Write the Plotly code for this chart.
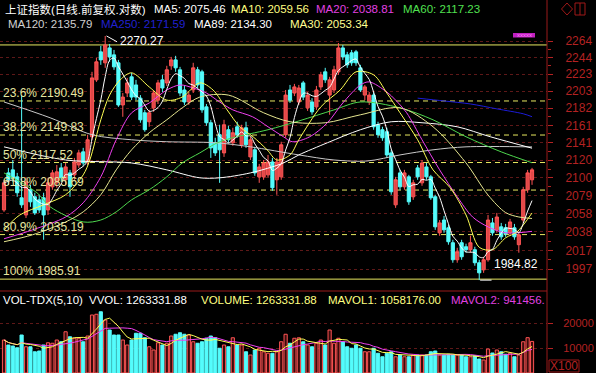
import math
import pandas as pd
import plotly.graph_objects as go

# ---------------- data ----------------
opens = [2063.0, 2105.5, 2109.0, 2100.9, 2076.8, 2057.3, 2086.0, 2078.0, 2074.5, 2076.8,
         2063.0, 2089.4, 2094.0, 2111.3, 2097.5, 2105.5, 2103.2, 2114.7, 2130.0, 2118.2,
         2147.8, 2216.1, 2250.5, 2237.0, 2255.4, 2246.8, 2237.0, 2185.7, 2200.1, 2219.8,
         2209.9, 2193.9, 2176.3, 2165.6, 2182.2, 2191.5, 2216.1, 2212.4, 2233.3, 2240.6,
         2228.4, 2203.8, 2189.3, 2203.8, 2228.4, 2225.9, 2183.4, 2164.4, 2140.7, 2150.2,
         2128.8, 2156.1, 2140.7, 2159.6, 2138.3, 2158.4, 2124.1, 2132.4, 2100.9, 2100.9,
         2103.2, 2118.2, 2097.5, 2100.9, 2150.2, 2203.8, 2200.1, 2189.3, 2212.4, 2182.2,
         2189.3, 2183.4, 2207.5, 2225.9, 2197.6, 2203.8, 2225.9, 2255.4, 2246.8, 2249.3,
         2250.5, 2230.8, 2197.6, 2189.3, 2197.6, 2162.0, 2156.1, 2153.7, 2128.8, 2068.8,
         2105.5, 2089.4, 2100.9, 2078.0, 2111.3, 2094.0, 2112.4, 2100.9, 2078.0, 2037.2,
         2051.6, 2042.8, 2026.1, 2007.2, 2026.1, 2021.6, 2018.3, 2018.3, 2003.9, 1996.1,
         2007.2, 2048.3, 2040.5, 2043.9, 2042.8, 2037.2, 2042.8, 2023.9, 2051.6, 2086.0,
         2097.5]
closes = [2094.0, 2097.5, 2099.8, 2082.6, 2068.8, 2095.2, 2072.2, 2059.6, 2063.0, 2057.3,
          2094.0, 2105.5, 2106.7, 2099.8, 2112.4, 2089.4, 2118.2, 2128.8, 2117.0, 2144.2,
          2218.5, 2238.2, 2240.6, 2259.1, 2244.3, 2232.0, 2185.7, 2195.2, 2212.4, 2195.2,
          2195.2, 2167.9, 2156.1, 2176.3, 2200.1, 2212.4, 2206.2, 2228.4, 2240.6, 2230.8,
          2200.1, 2189.3, 2197.6, 2230.8, 2209.9, 2179.8, 2164.4, 2134.7, 2128.8, 2132.4,
          2162.0, 2144.2, 2152.5, 2150.2, 2158.4, 2138.3, 2144.2, 2105.5, 2112.4, 2117.0,
          2118.2, 2088.3, 2118.2, 2138.3, 2197.6, 2191.5, 2207.5, 2206.2, 2195.2, 2197.6,
          2177.4, 2203.8, 2222.2, 2216.1, 2216.1, 2228.4, 2255.4, 2244.3, 2234.5, 2237.0,
          2237.0, 2203.8, 2207.5, 2197.6, 2159.6, 2150.2, 2146.6, 2126.4, 2083.7, 2097.5,
          2089.4, 2105.5, 2072.2, 2094.0, 2100.9, 2117.0, 2100.9, 2076.8, 2043.9, 2048.3,
          2040.5, 2027.2, 2007.2, 2016.1, 2010.5, 2018.3, 2026.1, 2003.9, 1992.8, 2007.2,
          2051.6, 2037.2, 2055.0, 2032.7, 2036.1, 2049.4, 2032.7, 2035.0, 2086.0, 2105.5,
          2109.0]
highs = [2097.5, 2111.3, 2120.5, 2105.5, 2197.6, 2099.8, 2091.7, 2082.6, 2080.3, 2082.6,
         2099.8, 2109.0, 2114.7, 2117.0, 2117.0, 2109.0, 2122.9, 2132.4, 2134.7, 2150.2,
         2225.9, 2243.1, 2257.9, 2270.27, 2260.3, 2252.9, 2240.6, 2200.1, 2218.5, 2224.7,
         2216.1, 2197.6, 2179.8, 2179.8, 2203.8, 2216.1, 2222.2, 2233.3, 2244.3, 2245.6,
         2232.0, 2208.7, 2201.3, 2237.0, 2232.0, 2228.4, 2186.9, 2167.9, 2146.6, 2162.0,
         2167.9, 2160.8, 2158.4, 2165.6, 2162.0, 2165.6, 2147.8, 2135.9, 2115.9, 2120.5,
         2126.4, 2122.9, 2122.9, 2141.9, 2203.8, 2209.9, 2211.2, 2209.9, 2214.8, 2201.3,
         2193.9, 2208.7, 2225.9, 2230.8, 2219.8, 2233.3, 2261.5, 2259.1, 2250.5, 2252.9,
         2252.9, 2234.5, 2209.9, 2201.3, 2201.3, 2165.6, 2159.6, 2158.4, 2132.4, 2100.9,
         2109.0, 2109.0, 2103.2, 2097.5, 2114.7, 2120.5, 2117.0, 2103.2, 2080.3, 2051.6,
         2056.2, 2046.1, 2029.4, 2020.5, 2029.4, 2025.0, 2033.9, 2021.6, 2007.2, 2010.5,
         2057.3, 2053.9, 2059.6, 2048.3, 2047.2, 2052.8, 2047.2, 2038.3, 2089.4, 2109.0,
         2111.3]
lows = [2060.8, 2091.7, 2095.2, 2078.0, 2065.3, 2053.9, 2066.5, 2057.3, 2059.6, 2029.4,
        2057.3, 2086.0, 2088.3, 2095.2, 2091.7, 2078.0, 2097.5, 2111.3, 2113.6, 2114.7,
        2144.2, 2213.6, 2234.5, 2230.8, 2238.2, 2228.4, 2183.4, 2171.5, 2195.2, 2191.5,
        2191.5, 2164.4, 2153.7, 2159.6, 2177.4, 2186.9, 2201.3, 2208.7, 2228.4, 2225.9,
        2196.4, 2185.7, 2185.7, 2200.1, 2206.2, 2176.3, 2160.8, 2122.9, 2125.2, 2094.0,
        2124.1, 2140.7, 2137.1, 2146.6, 2134.7, 2134.7, 2120.5, 2102.1, 2094.0, 2097.5,
        2099.8, 2084.9, 2080.3, 2097.5, 2146.6, 2188.1, 2196.4, 2185.7, 2191.5, 2178.6,
        2173.9, 2179.8, 2203.8, 2212.4, 2173.9, 2200.1, 2222.2, 2240.6, 2230.8, 2233.3,
        2233.3, 2201.3, 2191.5, 2185.7, 2156.1, 2146.6, 2143.0, 2122.9, 2080.3, 2065.3,
        2086.0, 2086.0, 2068.8, 2074.5, 2097.5, 2090.6, 2097.5, 2074.5, 2040.5, 2033.9,
        2037.2, 2023.9, 2003.9, 2003.9, 2007.2, 2015.0, 2015.0, 2000.6, 1984.82, 1992.8,
        2005.0, 2033.9, 2037.2, 2029.4, 2032.7, 2033.9, 2029.4, 2015.0, 2048.3, 2082.6,
        2091.7]
# volume in units of 100 (axis "X100")
vols = [13200, 11200, 10800, 10100, 15200, 10500, 10500, 8500, 8800, 11200,
        12100, 11900, 13200, 12500, 16500, 14500, 13900, 13900, 12500, 14800,
        23200, 23500, 24500, 21200, 17200, 15200, 15200, 13200, 11200, 13200,
        15900, 15900, 14100, 10500, 9200, 12100, 11200, 11900, 14800, 15500,
        16100, 15500, 15200, 12500, 11900, 12500, 13900, 14800, 14100, 9900,
        11200, 10500, 14100, 11200, 11200, 8500, 7200, 9200, 9900, 8500,
        7900, 7900, 8500, 12500, 15500, 11900, 13900, 14100, 12500, 11200,
        10500, 11900, 13200, 11200, 17200, 11900, 13900, 12500, 10500, 9900,
        11200, 9900, 8500, 8500, 9900, 7900, 6500, 7900, 8500, 6500,
        7200, 6500, 6500, 7200, 7200, 7200, 7200, 8500, 8800, 7200,
        7200, 7500, 7200, 7200, 7200, 6500, 6500, 6900, 5600, 5200,
        9600, 8000, 9200, 8500, 7500, 7900, 6500, 7200, 12500, 14130,
        12633]

# moving-average lines (candle index, value)
ma10_x = [0, 3.6, 9, 14, 18, 19.5, 22, 24, 26.4, 29, 33, 37, 40.5, 44.5, 47.5, 50.7, 53.6, 56.6, 59.8,
          62, 65, 67, 72, 76.4, 80, 84, 87, 90, 94, 97.5, 101.4, 105, 108, 111, 114, 116.6, 120]
ma10_v = [2040.5, 2057.3, 2068.8, 2080.3, 2103.2, 2120.5, 2167.9, 2197.6, 2216.1, 2224.7, 2207.5,
          2191.5, 2195.2, 2212.4, 2203.8, 2179.8, 2159.6, 2147.8, 2132.4, 2120.5, 2126.4, 2144.2,
          2183.4, 2203.8, 2225.9, 2222.2, 2200.1, 2176.3, 2144.2, 2109.0, 2088.3, 2057.3, 2021.0,
          2018.3, 2031.6, 2038.3, 2059.56]
ma20_x = [0, 6.5, 14, 18, 22, 25.5, 29, 33, 37, 40, 43, 46, 49, 52, 56.5, 60, 63.5, 65.5, 69.5,
          73.5, 77, 81, 83, 87, 89, 91.5, 95, 99, 103, 106.5, 110, 114, 120]
ma20_v = [2030.5, 2040.5, 2055.0, 2071.1, 2100.9, 2144.2, 2176.3, 2188.0, 2203.8, 2209.9, 2206.2,
          2200.1, 2189.3, 2179.8, 2171.5, 2159.6, 2147.8, 2141.9, 2147.8, 2164.4, 2188.1, 2209.9,
          2213.6, 2201.3, 2191.5, 2176.3, 2144.2, 2109.0, 2078.0, 2055.0, 2043.9, 2037.2, 2038.81]
ma30_x = [0, 6.5, 14, 18, 22, 25.5, 29, 33, 37, 40.5, 44.5, 51, 59, 65, 73, 81, 90, 97.5, 105,
          110, 114, 117, 120]
ma30_v = [2027.2, 2035.0, 2049.4, 2060.8, 2080.3, 2109.0, 2132.4, 2152.5, 2167.9, 2182.2, 2195.2,
          2197.6, 2176.3, 2165.6, 2164.4, 2173.9, 2182.2, 2159.6, 2117.0, 2080.0, 2060.0, 2055.0,
          2053.34]
ma60_x = [0, 7.5, 10.5, 18, 22, 25.5, 29, 33, 37, 40.5, 44.5, 48.5, 52, 60, 67, 75, 81, 90, 97.5,
          105, 113, 120]
ma60_v = [2105.5, 2082.6, 2066.5, 2049.4, 2051.6, 2060.8, 2074.5, 2086.0, 2100.9, 2117.0, 2128.8,
          2140.7, 2146.6, 2156.1, 2166.5, 2179.8, 2189.3, 2182.2, 2167.9, 2147.8, 2130.0, 2117.23]
ma89_x = [0, 14, 29, 37, 44.5, 49, 56, 63.5, 67, 73.5, 81, 88, 95, 103, 110.5, 120]
ma89_v = [2135.9, 2120.5, 2117.0, 2109.0, 2099.8, 2099.8, 2105.5, 2117.0, 2126.4, 2140.7, 2156.1,
          2165.6, 2164.4, 2159.6, 2147.8, 2134.30]
ma120_x = [0, 10.5, 20, 29, 37, 48, 56, 67, 75, 82.5, 90, 97.5, 105, 120]
ma120_v = [2189.3, 2170.3, 2150.2, 2144.2, 2141.9, 2140.7, 2135.9, 2126.4, 2120.5, 2119.3, 2126.4,
           2132.4, 2135.9, 2135.79]
ma250_x = [94, 100, 106, 112, 118, 120]
ma250_v = [2193.9, 2190.5, 2186.9, 2181.0, 2175.1, 2171.59]

# golden-section levels
fib_pcts = ["23.6%", "38.2%", "50%", "61.8%", "80.9%", "100%"]
fib_vals = [2190.49, 2149.83, 2117.52, 2085.69, 2035.19, 1985.91]
top_line_val = 2259.1
high_val, high_idx = 2270.27, 23
low_val, low_idx = 1984.82, 108

# axis ticks
price_tickvals = [1997.0, 2017.5, 2038.1, 2058.6, 2079.2, 2099.7, 2120.2, 2140.8, 2161.3,
                  2181.9, 2202.4, 2222.9, 2243.5, 2264.0]
price_ticktext = ["1997", "2017", "2038", "2058", "2079", "2100", "2120", "2141", "2161",
                  "2182", "2203", "2223", "2244", "2264"]
vol_tickvals = [10000, 20000]
vol_ticktext = ["10000", "20000"]

# ---------------- styling / layout ----------------
W, H = 596, 373
AX_X = 547
P_TOP, P_BOT = 30, 284
V_TOP = 291
FONT = "Liberation Sans, Arial, Noto Sans CJK SC, sans-serif"
UP = "#ff5454"
UP_FILL = "#e04848"
DN = "#54fcfc"
AXC = "#b42222"
GRID = "#5e1818"
FIBC = "#e8e860"
FIBT = "#e6e6a0"

def py(p):
    return 1 - p / H

def pxx(p):
    return p / AX_X

n = len(opens)
xs = list(range(n))

fig = go.Figure()

fig.add_trace(go.Candlestick(
    x=xs, open=opens, high=highs, low=lows, close=closes,
    increasing=dict(line=dict(color=UP, width=1), fillcolor=UP_FILL),
    decreasing=dict(line=dict(color=DN, width=1), fillcolor=DN),
    whiskerwidth=0, xaxis="x", yaxis="y", hoverinfo="skip", showlegend=False))

ma5 = pd.Series(closes).rolling(5, min_periods=1).mean().tolist()

def add_line(x, y, color, shape="spline"):
    fig.add_trace(go.Scatter(x=x, y=y, mode="lines",
                             line=dict(color=color, width=1, shape=shape, smoothing=0.9),
                             xaxis="x", yaxis="y", hoverinfo="skip", showlegend=False))

add_line(ma120_x, ma120_v, "#c8c8c8")
add_line(ma89_x, ma89_v, "#ffffff")
add_line(ma250_x, ma250_v, "#1c1cd8")
add_line(ma60_x, ma60_v, "#4ed84e")
add_line(ma30_x, ma30_v, "#e6e690")
add_line(ma20_x, ma20_v, "#f040f0")
add_line(ma10_x, ma10_v, "#ffff54")
add_line(xs, ma5, "#ffffff")

# volume
vcolors_fill = ["#3a0c0c" if c >= o else DN for o, c in zip(opens, closes)]
vcolors_line = [UP if c >= o else DN for o, c in zip(opens, closes)]
fig.add_trace(go.Bar(x=xs, y=vols, width=0.72,
                     marker=dict(color=vcolors_fill, line=dict(color=vcolors_line, width=1)),
                     xaxis="x2", yaxis="y2", hoverinfo="skip", showlegend=False))
mavol1 = pd.Series(vols).rolling(5, min_periods=1).mean().tolist()
mavol2 = pd.Series(vols).rolling(10, min_periods=1).mean().tolist()
fig.add_trace(go.Scatter(x=xs, y=mavol2, mode="lines", line=dict(color="#f040f0", width=1),
                         xaxis="x2", yaxis="y2", hoverinfo="skip", showlegend=False))
fig.add_trace(go.Scatter(x=xs, y=mavol1, mode="lines", line=dict(color="#ffff54", width=1),
                         xaxis="x2", yaxis="y2", hoverinfo="skip", showlegend=False))

shapes = []
# fib lines
for v in fib_vals[:-1]:
    shapes.append(dict(type="line", xref="paper", x0=0, x1=1, yref="y", y0=v, y1=v,
                       line=dict(color=FIBC, width=1, dash="5px,4px"), layer="below"))
for v in (top_line_val, fib_vals[-1]):
    shapes.append(dict(type="line", xref="paper", x0=0, x1=1, yref="y", y0=v, y1=v,
                       line=dict(color=FIBC, width=1), layer="below"))
# leader lines to high / low labels
shapes.append(dict(type="line", xref="x", yref="y", x0=high_idx + 0.3, y0=high_val,
                   x1=high_idx + 2.7, y1=2263.0, line=dict(color="#ffffff", width=1)))
shapes.append(dict(type="line", xref="x", yref="y", x0=low_idx + 0.2, y0=low_val,
                   x1=low_idx + 2.8, y1=low_val, line=dict(color="#ffffff", width=1)))
# frame lines
shapes.append(dict(type="line", xref="paper", yref="paper", x0=1, x1=1, y0=0, y1=1,
                   line=dict(color="#9a1a1a", width=1)))
shapes.append(dict(type="line", xref="paper", yref="paper", x0=0, x1=1, y0=py(V_TOP), y1=py(V_TOP),
                   line=dict(color="#9a1a1a", width=1)))
# top-right icons
shapes.append(dict(type="path", xref="paper", yref="paper",
                   path=f"M {pxx(567)} {py(3)} L {pxx(572.5)} {py(9)} L {pxx(567)} {py(15)} L {pxx(561.5)} {py(9)} Z",
                   line=dict(color="#a01818", width=1)))
shapes.append(dict(type="rect", xref="paper", yref="paper", x0=pxx(575), x1=pxx(585), y0=py(15), y1=py(3),
                   line=dict(color="#a01818", width=1)))
shapes.append(dict(type="line", xref="paper", yref="paper", x0=pxx(580), x1=pxx(580), y0=py(15), y1=py(3),
                   line=dict(color="#a01818", width=1)))
# X100 box
shapes.append(dict(type="rect", xref="paper", yref="paper", x0=pxx(549), x1=pxx(579), y0=py(372), y1=py(360),
                   line=dict(color="#a01818", width=1)))
# magenta marker bar
shapes.append(dict(type="rect", xref="paper", yref="paper", x0=pxx(513), x1=pxx(535), y0=py(37.5), y1=py(33),
                   line=dict(width=0), fillcolor="#c020c0"))

ann = []

def txt(x, y, s, color, size=11.5, anchor="left"):
    ann.append(dict(xref="paper", yref="paper", x=pxx(x), y=py(y), text=s, showarrow=False,
                    xanchor=anchor, yanchor="middle", font=dict(family=FONT, size=size, color=color)))

txt(3, 9, "上证指数(日线.前复权.对数)", "#ffffff")
txt(152, 9, "MA5: 2075.46", "#ffffff")
txt(229, 9, "MA10: 2059.56", "#ffff80")
txt(314, 9, "MA20: 2038.81", "#e040e0")
txt(401, 9, "MA60: 2117.23", "#50e050")
txt(6, 24, "MA120: 2135.79", "#d0d0d0")
txt(99, 24, "MA250: 2171.59", "#2020d0")
txt(192, 24, "MA89: 2134.30", "#ffffff")
txt(288, 24, "MA30: 2053.34", "#ffff90")

txt(1, 300, "VOL-TDX(5,10)", "#ffffff")
txt(87, 300, "VVOL: 1263331.88", "#ffffff")
txt(199, 300, "VOLUME: 1263331.88", "#ffff80")
txt(326, 300, "MAVOL1: 1058176.00", "#ffff80")
txt(449, 300, "MAVOL2: 941456.", "#e040e0")
txt(564, 366, "X100", AXC, size=12, anchor="center")
txt(524, 35.2, "xxxxx", "#ff80ff", size=6, anchor="center")

for pct, v in zip(fib_pcts, fib_vals):
    ann.append(dict(xref="paper", yref="y", x=pxx(1), y=math.log10(v), text=f"{pct} {v:.2f}",
                    showarrow=False, xanchor="left", yanchor="bottom", yshift=-1,
                    font=dict(family=FONT, size=12, color=FIBT)))

ann.append(dict(xref="x", yref="y", x=high_idx + 2.9, y=math.log10(2264.0), text=f"{high_val:.2f}",
                showarrow=False, xanchor="left", yanchor="middle",
                font=dict(family=FONT, size=12, color="#ffffff")))
ann.append(dict(xref="x", yref="y", x=low_idx + 2.9, y=math.log10(2002.8), text=f"{low_val:.2f}",
                showarrow=False, xanchor="left", yanchor="middle",
                font=dict(family=FONT, size=12, color="#ffffff")))

# minor ticks half-way between price labels
minor_vals = [(a + b) / 2 for a, b in zip(price_tickvals[:-1], price_tickvals[1:])]

x_range = [-0.91, 123.4]
fig.update_layout(
    width=W, height=H, margin=dict(l=0, r=W - AX_X, t=0, b=0, pad=0, autoexpand=False),
    paper_bgcolor="#000000", plot_bgcolor="#000000", showlegend=False,
    hovermode=False, boxgap=0.28, boxgroupgap=0, bargap=0.25,
    xaxis=dict(domain=[0, 1], range=x_range, visible=False, anchor="y", automargin=False,
               rangeslider=dict(visible=False)),
    xaxis2=dict(domain=[0, 1], range=x_range, visible=False, anchor="y2", automargin=False),
    yaxis=dict(type="log", domain=[py(P_BOT), py(P_TOP)], automargin=False,
               range=[math.log10(1980.59), math.log10(2277.75)],
               side="right", anchor="x", tickmode="array", tickvals=price_tickvals,
               ticktext=price_ticktext, tickfont=dict(family=FONT, size=12, color=AXC),
               ticks="outside", ticklen=5, tickcolor=AXC, ticklabelstandoff=10,
               minor=dict(tickmode="array", tickvals=minor_vals, ticks="outside", ticklen=3,
                          tickcolor=AXC, showgrid=False),
               showgrid=True, gridcolor=GRID, griddash="dot", gridwidth=1,
               zeroline=False, showline=False),
    yaxis2=dict(domain=[0, py(V_TOP)], range=[0, 32800], side="right", anchor="x2",
                automargin=False,
                tickmode="array", tickvals=vol_tickvals, ticktext=vol_ticktext,
                tickfont=dict(family=FONT, size=11, color=AXC),
                ticks="outside", ticklen=5, tickcolor=AXC, ticklabelstandoff=8,
                showgrid=True, gridcolor=GRID, griddash="dot", gridwidth=1,
                zeroline=False, showline=False),
    shapes=shapes, annotations=ann,
)

fig.write_html("out.html", config={"displayModeBar": False, "staticPlot": True},
               post_script="document.body.style.margin='0';document.body.style.padding='0';"
                           "document.body.style.background='#000';")
